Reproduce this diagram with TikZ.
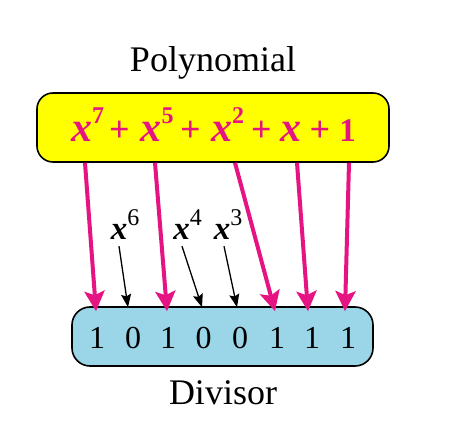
\documentclass[tikz,border=0pt]{standalone}
\usepackage{fontspec}
\setmainfont{Liberation Serif}
\usetikzlibrary{arrows.meta,calc}
\definecolor{pk}{RGB}{230,20,130}
\definecolor{yl}{RGB}{255,255,0}
\definecolor{lb}{RGB}{155,213,232}
\newcommand\myPX{{\fontsize{42}{42}\selectfont\bfseries\itshape x}}
\newcommand\myPS[1]{\raisebox{18pt}{\fontsize{24}{24}\selectfont\bfseries #1}}
\newcommand\myBX{{\fontsize{33}{33}\selectfont\bfseries\itshape x}}
\newcommand\myBS[1]{\raisebox{14pt}{\fontsize{24}{24}\selectfont #1}}
\tikzset{
 box/.style={draw=black, line width=1.6pt, inner sep=0pt},
 labelbig/.style={font=\fontsize{36}{36}\selectfont, anchor=base, inner sep=0pt},
 pterm/.style={text=pk, anchor=base, inner sep=0pt},
 pplus/.style={text=pk, anchor=base, inner sep=0pt, font=\fontsize{36}{36}\selectfont\bfseries},
 pone/.style={text=pk, anchor=base, inner sep=0pt, font=\fontsize{33}{33}\selectfont\bfseries},
 bterm/.style={anchor=base, inner sep=0pt},
 digit/.style={anchor=base, inner sep=0pt, font=\fontsize{32}{32}\selectfont},
 parrow/.style={draw=pk, line width=4pt, -{Stealth[length=20pt,width=20pt,inset=4pt]}},
 barrow/.style={draw=black, line width=1.3pt, -{Stealth[length=13pt,width=10pt,inset=2pt]}},
}
\begin{document}
\begin{tikzpicture}[x=1pt,y=-1pt]
\fill[white] (0,0) rectangle (452,427);
\useasboundingbox (0,0) rectangle (452,427);
\node[labelbig] (title) at (213,72) {Polynomial};
\node[box, fill=yl, rounded corners=16pt, minimum width=352pt, minimum height=69pt] (poly) at (213,127.5) {};
\node[pterm] (t7) at (87.5,142) {\myPX\myPS{7}};
\node[pplus] (p1) at (119.5,142) {+};
\node[pterm] (t5) at (157,142) {\myPX\myPS{5}};
\node[pplus] (p2) at (190.5,142) {+};
\node[pterm] (t2) at (227.5,142) {\myPX\myPS{2}};
\node[pplus] (p3) at (261.5,142) {+};
\node[pterm] (t1) at (291,142) {\myPX};
\node[pplus] (p4) at (320,142) {+};
\node[pone] (t0) at (347.5,142) {1};
\node[bterm] (l6) at (125,240) {\myBX\myBS{6}};
\node[bterm] (l4) at (187.5,240) {\myBX\myBS{4}};
\node[bterm] (l3) at (228,240) {\myBX\myBS{3}};
\node[box, fill=lb, rounded corners=18pt, minimum width=301pt, minimum height=59pt] (div) at (222.5,336.5) {};
\node[digit] (d1) at (97,348) {1};
\node[digit] (d2) at (133,348) {0};
\node[digit] (d3) at (168,348) {1};
\node[digit] (d4) at (203.5,348) {0};
\node[digit] (d5) at (240,348) {0};
\node[digit] (d6) at (277,348) {1};
\node[digit] (d7) at (312,348) {1};
\node[digit] (d8) at (348,348) {1};
\node[labelbig] (divl) at (223,404) {Divisor};
\draw[parrow] ($(poly.south)+(-128,0)$) -- ($(d1 |- div.north)+(-1,5)$);
\draw[parrow] ($(poly.south)+(-58,0)$) -- ($(d3 |- div.north)+(-1,5)$);
\draw[parrow] ($(poly.south)+(22,0)$) -- ($(d6 |- div.north)+(-2,5)$);
\draw[parrow] ($(poly.south)+(84,0)$) -- ($(d7 |- div.north)+(-4,5)$);
\draw[parrow] ($(poly.south)+(136,0)$) -- ($(d8 |- div.north)+(-3,5)$);
\draw[barrow] ($(l6.south)+(-6,6)$) -- ($(d2 |- div.north)+(-5,1)$);
\draw[barrow] ($(l4.south)+(-5.5,6)$) -- ($(d4 |- div.north)+(-1.5,1)$);
\draw[barrow] ($(l3.south)+(-4,6)$) -- ($(d5 |- div.north)+(-3,1)$);
\end{tikzpicture}
\end{document}
